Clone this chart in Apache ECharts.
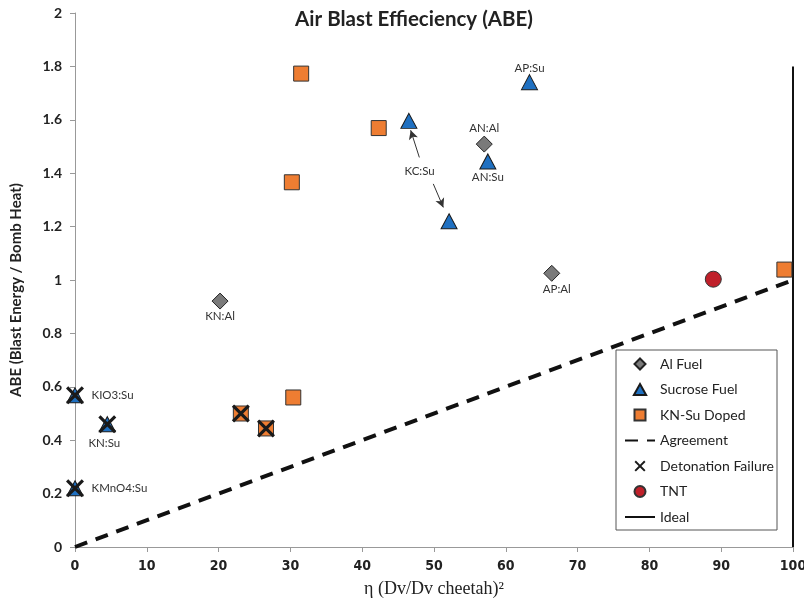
<!DOCTYPE html>
<html>
<head>
<meta charset="utf-8">
<script src="https://cdn.jsdelivr.net/npm/echarts@6/dist/echarts.min.js"></script>
<style>html,body{margin:0;padding:0;background:#fff}#c{width:804px;height:601px}</style>
</head>
<body>
<div id="c"></div>
<script>
// ---- data ----
const alX = [20.2, 57.0, 66.4];
const alY = [0.921, 1.509, 1.025];
const alNames = ['KN:Al', 'AN:Al', 'AP:Al'];

const suX = [0, 4.5, 0, 46.5, 52.1, 57.5, 63.3];
const suY = [0.568, 0.46, 0.22, 1.596, 1.220, 1.444, 1.741];
const suNames = ['KIO3:Su', 'KN:Su', 'KMnO4:Su', 'KC:Su', 'KC:Su', 'AN:Su', 'AP:Su'];

const dopedX = [31.5, 42.3, 30.2, 30.4, 23.1, 26.6, 98.8];
const dopedY = [1.773, 1.569, 1.366, 0.56, 0.50, 0.444, 1.039];

const failX = [0, 4.5, 0, 23.1, 26.6];
const failY = [0.568, 0.46, 0.22, 0.50, 0.444];

const tntX = [88.9];
const tntY = [1.003];

const agreeX = [0, 100];
const agreeY = [0, 1];

const idealX = [100, 100];
const idealY = [0, 1.8];

const xTicks = [0, 10, 20, 30, 40, 50, 60, 70, 80, 90, 100];
const yTicks = [0, 0.2, 0.4, 0.6, 0.8, 1, 1.2, 1.4, 1.6, 1.8, 2];

const kcLabel = {name: 'KC:Su', x: 48.0, y: 1.407};
const kcArrows = [
  [[47.96, 1.459], [46.75, 1.561]],
  [[49.9, 1.36], [51.3, 1.272]]
];

// ---- styling (label placement) ----
const labelPlace = {
  'KN:Al': {position: 'bottom', distance: 1},
  'AN:Al': {position: 'top', distance: 1},
  'AP:Al': {position: 'bottom', distance: 1, offset: [5, 0]},
  'KIO3:Su': {position: 'right', distance: 8},
  'KN:Su': {position: 'bottom', distance: 5, offset: [-3, 0]},
  'KMnO4:Su': {position: 'right', distance: 8},
  'AN:Su': {position: 'bottom', distance: 2},
  'AP:Su': {position: 'top', distance: 0}
};
const LBL = {fontFamily: 'Lato', fontSize: 11.5, color: '#333'};

function pts(xs, ys, names) {
  return xs.map((x, i) => {
    const o = {value: [x, ys[i]]};
    if (names) {
      const p = labelPlace[names[i]];
      if (p) {
        o.label = Object.assign({show: true, formatter: names[i]}, LBL, p);
      }
    }
    return o;
  });
}

const XPATH = 'path://M0,2.5 L2.5,0 L10,7.5 L17.5,0 L20,2.5 L12.5,10 L20,17.5 L17.5,20 L10,12.5 L2.5,20 L0,17.5 L7.5,10 Z';
// legend icon paths (keep aspect)
const ICON_DIAMOND = 'path://M10,0 L20,10 L10,20 L0,10 Z';
const ICON_TRIANGLE = 'path://M10,0 L20,18 L0,18 Z';
const ICON_RECT = 'path://M0,0 L20,0 L20,20 L0,20 Z';
const HIDE = {color: 'rgba(0,0,0,0)', borderColor: 'rgba(0,0,0,0)', borderWidth: 0};

const chart = echarts.init(document.getElementById('c'), null, {renderer: 'canvas'});
chart.setOption({
  animation: false,
  title: {
    text: 'Air Blast Effieciency (ABE)',
    left: 414, top: 9, padding: 0, textAlign: 'center',
    textStyle: {fontFamily: 'Lato', fontWeight: 'bold', fontSize: 20.5, color: '#222'}
  },
  grid: {left: 75, right: 11, top: 13, bottom: 54, containLabel: false, outerBoundsMode: 'none'},
  legend: {
    orient: 'vertical', left: 616, top: 350,
    padding: [7, 3, 6, 8],
    itemWidth: 30, itemHeight: 11, itemGap: 11.5,
    borderColor: '#555', borderWidth: 1,
    textStyle: {fontFamily: 'Lato', fontSize: 14, color: '#222'},
    data: [
      {name: 'Al Fuel', icon: ICON_DIAMOND},
      {name: 'Sucrose Fuel', icon: ICON_TRIANGLE},
      {name: 'KN-Su Doped', icon: ICON_RECT},
      {name: 'Agreement', itemStyle: HIDE},
      {name: 'Detonation Failure', icon: XPATH},
      {name: 'TNT', icon: 'circle'},
      {name: 'Ideal', itemStyle: HIDE}
    ]
  },
  xAxis: {
    type: 'value', min: xTicks[0], max: xTicks[xTicks.length - 1], interval: 10,
    name: 'η (Dv/Dv cheetah)²', nameLocation: 'middle', nameGap: 33,
    nameTextStyle: {fontFamily: 'Liberation Serif', fontSize: 18, color: '#222'},
    axisLine: {lineStyle: {color: '#999', width: 1}},
    axisTick: {show: true, length: 5, lineStyle: {color: '#999'}},
    splitLine: {show: false},
    axisLabel: {fontFamily: 'Liberation Sans Narrow, DejaVu Sans Condensed, sans-serif', fontWeight: 'bold', fontSize: 14, color: '#222', margin: 12}
  },
  yAxis: {
    type: 'value', min: yTicks[0], max: yTicks[yTicks.length - 1], interval: 0.2,
    name: 'ABE (Blast Energy / Bomb Heat)', nameLocation: 'middle', nameGap: 51, nameRotate: 90,
    nameTextStyle: {fontFamily: 'Lato', fontWeight: 'bold', fontSize: 15, color: '#222', padding: [0, 20, 0, 0]},
    axisLine: {show: true, lineStyle: {color: '#999', width: 1}},
    axisTick: {show: true, length: 5, lineStyle: {color: '#999'}},
    splitLine: {show: false},
    axisLabel: {fontFamily: 'Lato', fontWeight: 'bold', fontSize: 14, color: '#222', margin: 13,
      formatter: v => String(Math.round(v * 10) / 10)}
  },
  series: [
    {
      name: 'Agreement', type: 'line', symbol: 'none', z: 1,
      data: agreeX.map((x, i) => [x, agreeY[i]]),
      lineStyle: {color: '#111', width: 4, type: [13, 9]},
      itemStyle: {color: '#111'}
    },
    {
      name: 'Ideal', type: 'line', symbol: 'none', z: 1,
      data: idealX.map((x, i) => [x, idealY[i]]),
      lineStyle: {color: '#111', width: 2},
      itemStyle: {color: '#111'}
    },
    {
      name: 'Al Fuel', type: 'scatter', symbol: 'diamond', symbolSize: 16, clip: false, z: 3,
      itemStyle: {color: '#7a7a7a', borderColor: '#222', borderWidth: 1, opacity: 1},
      data: pts(alX, alY, alNames)
    },
    {
      name: 'Sucrose Fuel', type: 'scatter', symbol: 'triangle', symbolSize: [16, 15], clip: false, z: 3,
      itemStyle: {color: '#1f70c1', borderColor: '#1a1a1a', borderWidth: 1, opacity: 1},
      data: pts(suX, suY, suNames),
      markPoint: {
        symbol: 'circle', symbolSize: 0,
        label: Object.assign({show: true, position: 'inside', formatter: p => p.name}, LBL),
        data: [{name: kcLabel.name, coord: [kcLabel.x, kcLabel.y]}]
      },
      markLine: {
        silent: true, symbol: ['none', 'arrow'], symbolSize: [7, 9],
        label: {show: false},
        lineStyle: {color: '#333', width: 1, type: 'solid'},
        data: kcArrows.map(a => [{coord: a[0]}, {coord: a[1]}])
      }
    },
    {
      name: 'KN-Su Doped', type: 'scatter', symbol: 'rect', symbolSize: 15, clip: false, z: 3,
      itemStyle: {color: '#ee7d32', borderColor: '#333', borderWidth: 1, opacity: 1},
      data: pts(dopedX, dopedY)
    },
    {
      name: 'Detonation Failure', type: 'scatter', symbol: XPATH, symbolSize: 18, clip: false, z: 4,
      itemStyle: {color: '#1a1a1a', opacity: 1},
      data: pts(failX, failY)
    },
    {
      name: 'TNT', type: 'scatter', symbol: 'circle', symbolSize: 16, clip: false, z: 3,
      itemStyle: {color: '#c0202a', borderColor: '#333', borderWidth: 1, opacity: 1},
      data: pts(tntX, tntY)
    }
  ]
});
</script>
</body>
</html>
